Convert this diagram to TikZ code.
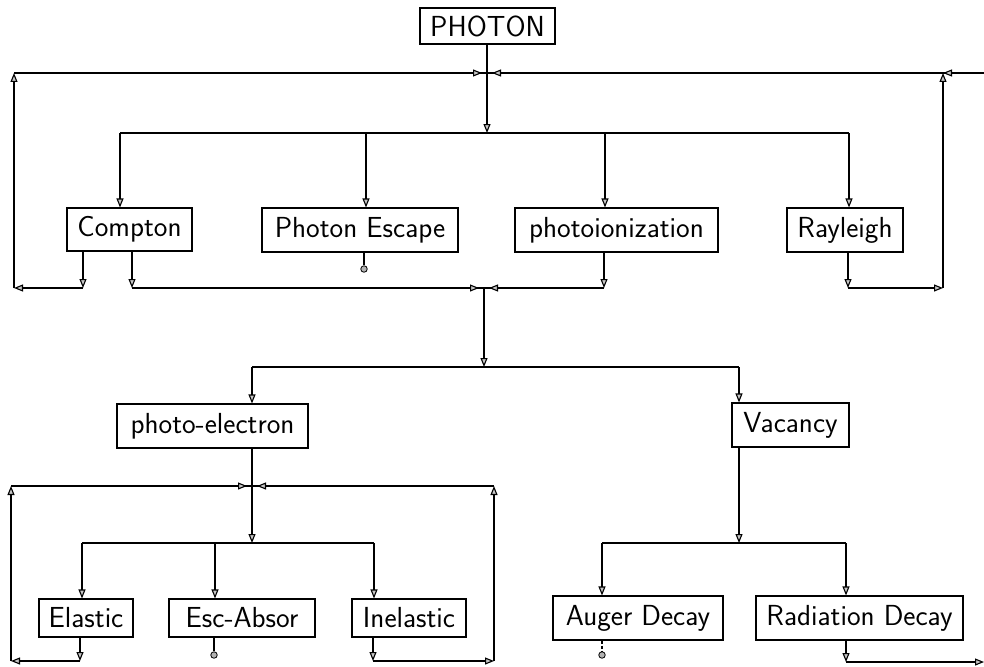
\documentclass[tikz,border=0pt]{standalone}
\usetikzlibrary{arrows.meta}
\begin{document}
\begin{tikzpicture}[x=1pt,y=-1pt]
\tikzset{
  box/.style={draw, line width=1.1pt, inner sep=0pt, anchor=center,
    font=\fontsize{29}{34}\selectfont\sffamily},
  flow/.style={line width=1.1pt, -{Triangle[length=9pt,width=7pt,fill=gray!45]}},
  plain/.style={line width=1.1pt},
  sink/.style={circle, draw, fill=gray!60, line width=0.8pt, minimum size=6.5pt, inner sep=0pt},
  tojunction/.style={flow, shorten >=5pt}
}
\useasboundingbox (0,0) rectangle (984,666);
\fill[white] (0,0) rectangle (984,666);

% boxes
\node[box, minimum width=135pt, minimum height=36pt] (photon) at (487.5,26) {PHOTON};
\node[box, minimum width=125pt, minimum height=43pt] (compton) at (129.5,229.5) {Compton};
\node[box, minimum width=196pt, minimum height=44pt] (pesc) at (360,230) {Photon Escape};
\node[box, minimum width=203pt, minimum height=44pt] (photoion) at (616.5,230) {photoionization};
\node[box, minimum width=116pt, minimum height=44pt] (rayleigh) at (845,230) {Rayleigh};
\node[box, minimum width=191pt, minimum height=44pt] (pe) at (212.5,426) {photo-electron};
\node[box, minimum width=117pt, minimum height=44pt] (vac) at (790.5,425) {Vacancy};
\node[box, minimum width=94pt, minimum height=38pt] (elastic) at (86,618) {Elastic};
\node[box, minimum width=146pt, minimum height=38pt] (esc) at (242,618) {Esc-Absor};
\node[box, minimum width=114pt, minimum height=38pt] (inel) at (409,618) {Inelastic};
\node[box, minimum width=170pt, minimum height=44pt] (auger) at (638,618) {Auger Decay};
\node[box, minimum width=207pt, minimum height=44pt] (rad) at (859.5,618) {Radiation Decay};

% sinks
\node[sink] (pedot) at (364,269) {};
\node[sink] (escdot) at (214,655) {};
\node[sink] (augdot) at (602,655) {};

% coordinates
\coordinate (jtop) at (487,73);
\coordinate (tl) at (14,73);
\coordinate (bl) at (14,288);
\coordinate (jtopR) at (943,73);
\coordinate (redge) at (984,73);
\coordinate (b1) at (487,133);
\coordinate (cin) at (120,133);
\coordinate (pein1) at (366,133);
\coordinate (piin) at (605,133);
\coordinate (rin) at (849,133);
\coordinate (co1) at (83,288);
\coordinate (co2) at (132,288);
\coordinate (po) at (604,288);
\coordinate (ro) at (848,288);
\coordinate (rc) at (943,288);
\coordinate (j2) at (484,288);
\coordinate (b2) at (484,367);
\coordinate (pein) at (252,367);
\coordinate (vin) at (739,367);
\coordinate (j3) at (252,486);
\coordinate (b3) at (252,543);
\coordinate (elin) at (82,543);
\coordinate (esin) at (215,543);
\coordinate (inin) at (374,543);
\coordinate (eo) at (80,661);
\coordinate (ec) at (11,661);
\coordinate (et) at (11,486);
\coordinate (io) at (373,661);
\coordinate (ic) at (494,661);
\coordinate (it) at (494,486);
\coordinate (vo) at (739,543);
\coordinate (auin) at (602,543);
\coordinate (rdin) at (846,543);
\coordinate (ro2) at (846,662);
\coordinate (redge2) at (984,662);

% top level
\draw[flow] (photon.south -| b1) -- (b1);
\draw[plain] (cin) -- (rin);
\draw[flow] (cin) -- (cin |- compton.north);
\draw[flow] (pein1) -- (pein1 |- pesc.north);
\draw[flow] (piin) -- (piin |- photoion.north);
\draw[flow] (rin) -- (rin |- rayleigh.north);

% feedback loops to top line
\draw[plain] (tl) -- (redge);
\draw[flow] (compton.south -| co1) -- (co1);
\draw[flow] (co1) -- (bl);
\draw[flow] (bl) -- (tl);
\draw[tojunction] (tl) -- (jtop);
\draw[flow] (rayleigh.south -| ro) -- (ro);
\draw[flow] (ro) -- (rc);
\draw[flow] (rc) -- (jtopR);
\draw[flow] (redge) -- (jtopR);
\draw[tojunction] (jtopR) -- (jtop);

% outputs to second junction
\draw[plain] (pesc.south -| pedot) -- (pedot);
\draw[flow] (compton.south -| co2) -- (co2);
\draw[plain] (co2) -- (po);
\draw[tojunction] (co2) -- (j2);
\draw[flow] (photoion.south -| po) -- (po);
\draw[tojunction] (po) -- (j2);

% second level
\draw[flow] (j2) -- (b2);
\draw[plain] (pein) -- (vin);
\draw[flow] (pein) -- (pein |- pe.north);
\draw[flow] (vin) -- (vin |- vac.north);

% photo-electron branch
\draw[plain] (pe.south -| j3) -- (j3);
\draw[flow] (j3) -- (b3);
\draw[plain] (elin) -- (inin);
\draw[flow] (elin) -- (elin |- elastic.north);
\draw[flow] (esin) -- (esin |- esc.north);
\draw[flow] (inin) -- (inin |- inel.north);
\draw[flow] (elastic.south -| eo) -- (eo);
\draw[flow] (eo) -- (ec);
\draw[flow] (ec) -- (et);
\draw[plain] (et) -- (it);
\draw[tojunction] (et) -- (j3);
\draw[flow] (inel.south -| io) -- (io);
\draw[flow] (io) -- (ic);
\draw[flow] (ic) -- (it);
\draw[tojunction] (it) -- (j3);
\draw[plain] (esc.south -| escdot) -- (escdot);

% vacancy branch
\draw[flow] (vac.south -| vo) -- (vo);
\draw[plain] (auin) -- (rdin);
\draw[flow] (auin) -- (auin |- auger.north);
\draw[flow] (rdin) -- (rdin |- rad.north);
\draw[plain, dashed, dash pattern=on 3pt off 2pt] (auger.south -| augdot) -- (augdot);
\draw[flow] (rad.south -| ro2) -- (ro2);
\draw[flow] (ro2) -- (redge2);
\end{tikzpicture}
\end{document}
